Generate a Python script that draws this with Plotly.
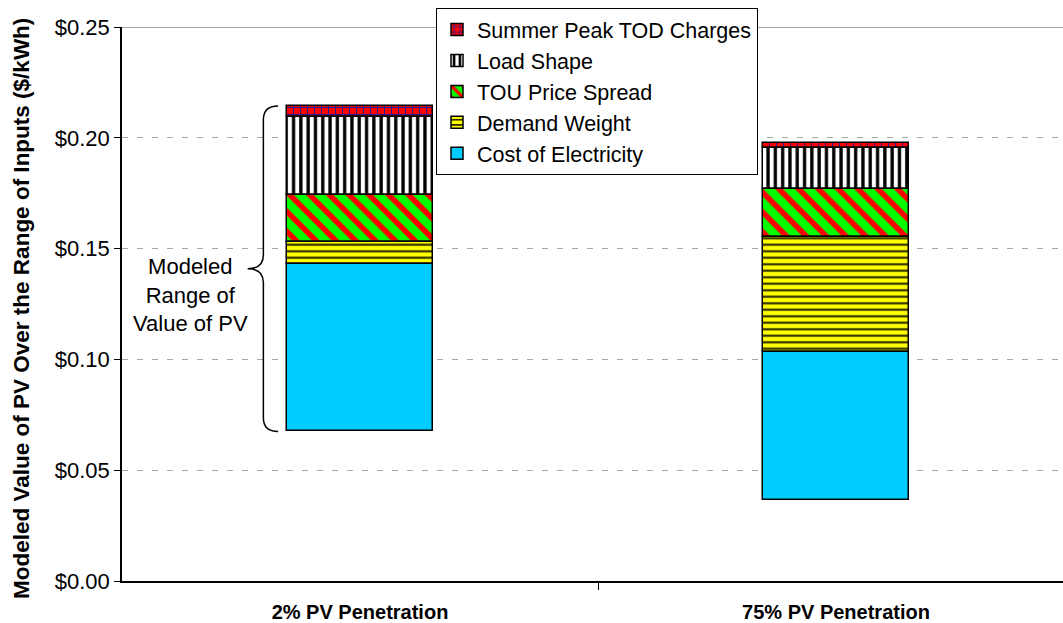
import plotly.graph_objects as go

# ---- data ----
categories = ["2% PV Penetration", "75% PV Penetration"]
range_floor = [0.0675, 0.0366]          # lowest modeled value (start of stack)
cost_of_electricity = [0.0755, 0.0669]
demand_weight = [0.0101, 0.0519]
tou_price_spread = [0.0213, 0.0214]
load_shape = [0.0350, 0.0185]
summer_peak_tod = [0.0049, 0.0022]
y_ticks = [0.00, 0.05, 0.10, 0.15, 0.20, 0.25]

FONT = "Arial, 'Liberation Sans', sans-serif"

series = [
    ("Cost of Electricity", cost_of_electricity,
     dict(color="#00CCFF")),
    ("Demand Weight", demand_weight,
     dict(color="#FFFF00", pattern=dict(shape="-", fgcolor="#262600", bgcolor="#FFFF00",
                                        size=6.5, solidity=0.32, fillmode="replace"))),
    ("TOU Price Spread", tou_price_spread,
     dict(color="#00FF00", pattern=dict(shape="\\", fgcolor="#FF0000", bgcolor="#00FF00",
                                        size=14, solidity=0.4, fillmode="replace"))),
    ("Load Shape", load_shape,
     dict(color="#FFFFFF", pattern=dict(shape="|", fgcolor="#000000", bgcolor="#FFFFFF",
                                        size=7.3, solidity=0.45, fillmode="replace"))),
    ("Summer Peak TOD Charges", summer_peak_tod,
     dict(color="#FF0000", pattern=dict(shape="+", fgcolor="#1a1a9a", bgcolor="#FF0000",
                                        size=7, solidity=0.25, fillmode="replace"))),
]

x_pos = list(range(len(categories)))

# cumulative bases of the stack
bases = []
running = list(range_floor)
for name, vals, mk in series:
    bases.append(list(running))
    running = [r + v for r, v in zip(running, vals)]

fig = go.Figure()
# add in reverse so the legend lists the top segment first
for (name, vals, mk), base in reversed(list(zip(series, bases))):
    mk = dict(mk)
    mk["line"] = dict(color="#000000", width=1.5)
    fig.add_trace(go.Bar(
        x=x_pos, y=vals, base=base, name=name,
        marker=mk, width=0.307, hoverinfo="skip",
    ))

# ---- brace spanning the first bar's modeled range ----
b_bot = range_floor[0]
b_top = running[0]
b_mid = (b_bot + b_top) / 2
x_end, x_sp, x_tip = -0.172, -0.203, -0.236
ry = 0.0062
path = (f"M{x_end},{b_top} Q{x_sp},{b_top} {x_sp},{b_top - ry} "
        f"L{x_sp},{b_mid + ry} Q{x_sp},{b_mid} {x_tip},{b_mid} "
        f"Q{x_sp},{b_mid} {x_sp},{b_mid - ry} "
        f"L{x_sp},{b_bot + ry} Q{x_sp},{b_bot} {x_end},{b_bot}")
fig.add_shape(type="path", path=path, xref="x", yref="y",
              line=dict(color="#000000", width=1.5), layer="above")

fig.add_annotation(x=-0.357, y=b_mid - 0.012, xref="x", yref="y",
                   text="Modeled<br>Range of<br>Value of PV", showarrow=False,
                   font=dict(family=FONT, size=22, color="#000000"),
                   align="center", xanchor="center", yanchor="middle")

# top border line (solid grey) at the top of the value axis
fig.add_shape(type="line", xref="paper", yref="y", x0=0, x1=1,
              y0=y_ticks[-1], y1=y_ticks[-1],
              line=dict(color="#8c8c8c", width=1.5), layer="below")

fig.add_annotation(text="<b>Modeled Value of PV Over the Range of Inputs ($/kWh)</b>",
                   xref="paper", yref="paper", x=-0.1063, y=0.4928,
                   textangle=-90, showarrow=False, xanchor="center", yanchor="middle",
                   font=dict(family=FONT, size=22.5, color="#000000"))

plot_left, plot_w, cat_px = 122, 941, 476

fig.update_layout(
    width=1063, height=623,
    margin=dict(l=plot_left, r=0, t=27, b=42, pad=0, autoexpand=False),
    paper_bgcolor="#FFFFFF", plot_bgcolor="#FFFFFF",
    barmode="overlay",
    bargap=0,
    font=dict(family=FONT, color="#000000"),
    showlegend=True,
    legend=dict(
        x=(436 - plot_left) / plot_w, y=(581 - 8) / 554,
        xanchor="left", yanchor="top",
        bgcolor="#FFFFFF", bordercolor="#000000", borderwidth=1,
        font=dict(family=FONT, size=21.5, color="#000000"),
        traceorder="normal",
        itemwidth=30,
    ),
    xaxis=dict(
        range=[-0.5, -0.5 + plot_w / cat_px],
        tickmode="array", tickvals=x_pos,
        ticktext=[f"<b>{c}</b>" for c in categories],
        ticks="", showgrid=False, zeroline=False,
        showline=True, linecolor="#000000", linewidth=1.5,
        tickfont=dict(family=FONT, size=20, color="#000000"),
        ticklabelstandoff=12,
        minor=dict(tickmode="array", tickvals=[0.5], ticks="outside",
                   ticklen=7, tickcolor="#000000", tickwidth=1, showgrid=False),
        fixedrange=True,
    ),
    yaxis=dict(
        range=[y_ticks[0], y_ticks[-1]],
        tickmode="array", tickvals=y_ticks, tickformat="$.2f",
        ticks="outside", ticklen=6, tickcolor="#000000", tickwidth=1,
        tickfont=dict(family=FONT, size=22, color="#000000"),
        showgrid=True, gridcolor="#a8a8a8", gridwidth=1, griddash="6px,9px",
        zeroline=False,
        showline=True, linecolor="#000000", linewidth=1.5,
        fixedrange=True,
    ),
)

fig.write_html("out.html", config={"displayModeBar": False},
               post_script="document.body.style.margin='0';")
